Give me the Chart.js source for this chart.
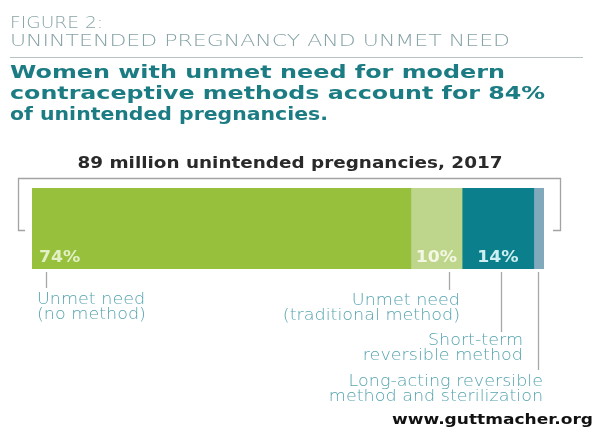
<!DOCTYPE html>
<html>
<head>
<meta charset="utf-8">
<title>Unintended pregnancy and unmet need</title>
<script src="https://cdn.jsdelivr.net/npm/chart.js@4/dist/chart.umd.min.js"></script>
<style>
  html, body { margin: 0; padding: 0; background: #fff; }
  canvas { display: block; }
</style>
</head>
<body>
<canvas id="grafico" width="595" height="434"></canvas>
<script>
// dados: parcela das gravidezes não intencionais por situação contraceptiva
const categorias = [
  ['Unmet need', '(no method)'],
  ['Unmet need', '(traditional method)'],
  ['Short-term', 'reversible method'],
  ['Long-acting reversible', 'method and sterilization']
];
const percentuais = [74, 10, 14, 2];
const mostrarPercentual = [true, true, true, false];
const cores = ['#97c03c', '#bdd68c', '#0b7f8b', '#80aabb'];

const rotuloFigura = 'FIGURE 2:';
const rotuloTema = 'UNINTENDED PREGNANCY AND UNMET NEED';
const manchete = [
  'Women with unmet need for modern',
  'contraceptive methods account for 84%',
  'of unintended pregnancies.'
];
const subtitulo = '89 million unintended pregnancies, 2017';
const fonte = 'www.guttmacher.org';

// texto esticado na horizontal por um fator
function textoEsticado(ctx, txt, x, y, s, align) {
  const w = ctx.measureText(txt).width * s;
  let x0 = x;
  if (align === 'right') x0 = x - w;
  if (align === 'center') x0 = x - w / 2;
  ctx.save();
  ctx.translate(x0, y);
  ctx.scale(s, 1);
  ctx.textAlign = 'left';
  ctx.fillText(txt, 0, 0);
  ctx.restore();
}

// texto esticado até a largura pedida
function textoAjustado(ctx, txt, x, y, largura, align) {
  const s = largura / ctx.measureText(txt).width;
  textoEsticado(ctx, txt, x, y, s, align);
}

const desenhoExtra = {
  id: 'desenhoExtra',
  afterDraw(chart) {
    const ctx = chart.ctx;
    const area = chart.chartArea;
    const x = chart.scales.x;
    ctx.save();
    ctx.textBaseline = 'alphabetic';

    // cabeçalho
    ctx.fillStyle = '#86a3a6';
    ctx.font = '300 15px "DejaVu Sans"';
    textoAjustado(ctx, rotuloFigura, 10, 28, 93, 'left');
    ctx.font = '300 16px "DejaVu Sans"';
    textoAjustado(ctx, rotuloTema, 10, 46, 500, 'left');

    ctx.strokeStyle = '#b9c2c3';
    ctx.lineWidth = 1.2;
    ctx.beginPath();
    ctx.moveTo(10, 57.5);
    ctx.lineTo(583, 57.5);
    ctx.stroke();

    ctx.fillStyle = '#1c7c83';
    ctx.font = 'bold 18px "DejaVu Sans"';
    const largMan = [495, 535, 318];
    const baseMan = [78, 99, 120];
    manchete.forEach((l, i) => textoAjustado(ctx, l, 10, baseMan[i], largMan[i], 'left'));

    ctx.fillStyle = '#2a2a2a';
    ctx.font = 'bold 16px "DejaVu Sans"';
    textoAjustado(ctx, subtitulo, 290, 168, 425, 'center');

    // colchete sobre a barra
    ctx.strokeStyle = '#a3a3a3';
    ctx.lineWidth = 1.3;
    ctx.beginPath();
    ctx.moveTo(25, 230.5);
    ctx.lineTo(18.5, 230.5);
    ctx.lineTo(18.5, 178.5);
    ctx.lineTo(560.5, 178.5);
    ctx.lineTo(560.5, 230.5);
    ctx.lineTo(553, 230.5);
    ctx.stroke();

    // percentuais dentro da barra
    ctx.font = 'bold 16px "DejaVu Sans"';
    const corTexto = ['#e3efc4', '#f3f7e4', '#cdeff2'];
    let acum = 0;
    percentuais.forEach((v, i) => {
      const ini = x.getPixelForValue(acum);
      const fim = x.getPixelForValue(acum + v);
      acum += v;
      if (!mostrarPercentual[i]) return;
      ctx.fillStyle = corTexto[i];
      if (i === 0) {
        textoEsticado(ctx, v + '%', ini + 7, area.bottom - 7, 1.08, 'left');
      } else {
        textoEsticado(ctx, v + '%', (ini + fim) / 2, area.bottom - 7, 1.08, 'center');
      }
    });

    // linhas-guia e rótulos embaixo
    const ancora = [2.7, 81.5, 91.6, 98.9];
    const fimLinha = [288, 290, 332, 370];
    const alinh = ['left', 'right', 'right', 'right'];
    const xTexto = [37, 460, 523, 543];
    const base = [[304, 319], [305, 320], [345, 360], [386, 401]];
    ctx.strokeStyle = '#a7a7a7';
    ctx.lineWidth = 1.3;
    ctx.font = '300 15px "DejaVu Sans"';
    ctx.fillStyle = '#55a3ae';
    categorias.forEach((linhas, i) => {
      const px = Math.round(x.getPixelForValue(ancora[i])) + 0.5;
      ctx.beginPath();
      ctx.moveTo(px, area.bottom + 3);
      ctx.lineTo(px, fimLinha[i]);
      ctx.stroke();
      linhas.forEach((t, j) => textoEsticado(ctx, t, xTexto[i], base[i][j], 1.17, alinh[i]));
    });

    ctx.fillStyle = '#111';
    ctx.font = 'bold 14px "DejaVu Sans"';
    textoAjustado(ctx, fonte, 593, 424, 201, 'right');
    ctx.restore();
  }
};

const ctx = document.getElementById('grafico').getContext('2d');

new Chart(ctx, {
  type: 'bar',
  data: {
    labels: [''],
    datasets: percentuais.map((v, i) => ({
      label: categorias[i].join(' '),
      data: [v],
      backgroundColor: cores[i],
      borderWidth: 0,
      barPercentage: 1,
      categoryPercentage: 1
    }))
  },
  options: {
    indexAxis: 'y',
    responsive: false,
    animation: false,
    layout: { padding: { left: 32, right: 51, top: 188, bottom: 165 } },
    plugins: {
      legend: { display: false },
      tooltip: { enabled: false }
    },
    scales: {
      x: { stacked: true, min: 0, max: 100, display: false },
      y: { stacked: true, display: false }
    }
  },
  plugins: [desenhoExtra]
});
</script>
</body>
</html>
